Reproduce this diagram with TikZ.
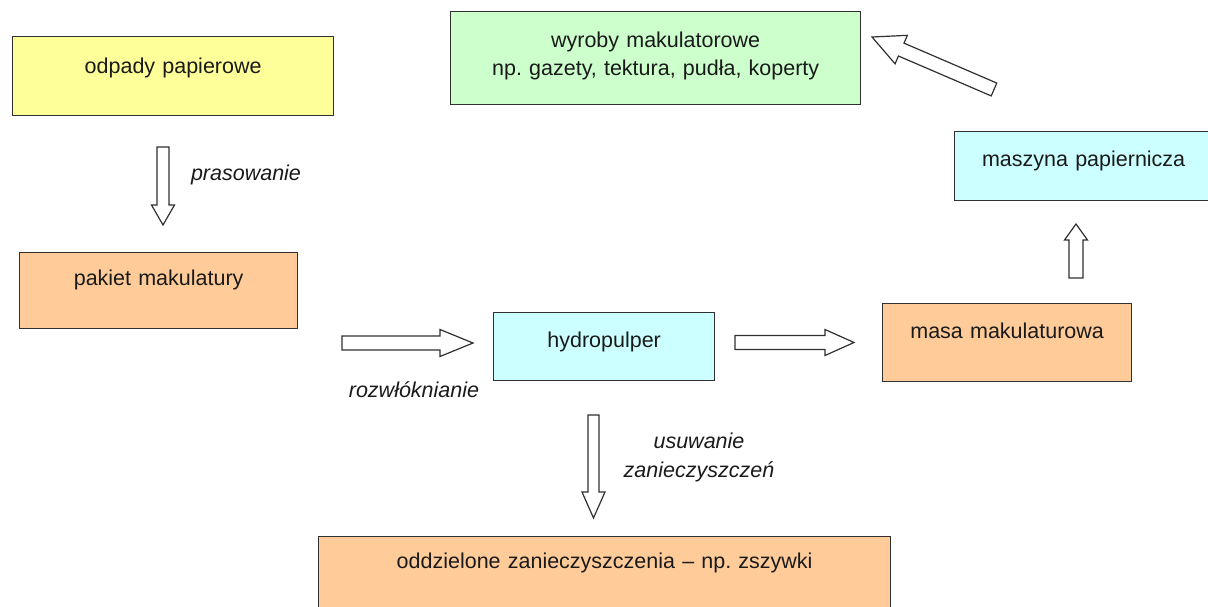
\documentclass[tikz,border=0pt]{standalone}
\usepackage{fontspec}
\setmainfont{Liberation Sans}
\usetikzlibrary{calc}
\frenchspacing
\definecolor{cyellow}{HTML}{FFFF99}
\definecolor{corange}{HTML}{FFCC99}
\definecolor{ccyan}{HTML}{CCFFFF}
\definecolor{cgreen}{HTML}{CCFFCC}
\definecolor{cline}{HTML}{303030}
\definecolor{ctext}{HTML}{1A1A1A}
\newcommand{\blockarr}[5]{%
  \coordinate (hb) at ($(#2)!#5!(#1)$);
  \draw[barrow] ($(#1)!#3!90:(#2)$) -- ($(hb)!#3!90:(#2)$) -- ($(hb)!#4!90:(#2)$) -- (#2)
    -- ($(hb)!#4!-90:(#2)$) -- ($(hb)!#3!-90:(#2)$) -- ($(#1)!#3!-90:(#2)$) -- cycle;}
\begin{document}
\begin{tikzpicture}[x=1pt,y=-1pt,
  font=\fontsize{21.5}{28}\selectfont,
  box/.style={draw=cline, line width=1.3pt, inner sep=0pt, anchor=north west, align=center, text=ctext},
  barrow/.style={draw=cline, line width=1.2pt, fill=white, line join=miter},
  lbl/.style={font=\fontsize{21.5}{29}\selectfont\itshape, inner sep=0pt, align=center, text=ctext}]
\useasboundingbox (0,0) rectangle (1208,607);
\clip (0,0) rectangle (1208,607);

% boxes
\node[box, fill=cyellow, text width=321pt, text height=36.5pt, text depth=42.5pt] (odpady) at (12,36) {odpady papierowe};
\node[box, fill=corange, text width=278pt, text height=33pt, text depth=43pt] (pakiet) at (19,252) {pakiet makulatury};
\node[box, fill=ccyan, text width=221pt, text height=35pt, text depth=33pt] (hydro) at (493,312) {hydropulper};
\node[box, fill=corange, text width=249pt, text height=35pt, text depth=43pt] (masa) at (882,303) {masa makulaturowa};
\node[box, fill=ccyan, text width=258pt, text height=35pt, text depth=34pt] (maszyna) at (954,131) {maszyna papiernicza};
\node[box, fill=cgreen, text width=410pt, text height=36pt, text depth=57pt] (wyroby) at (450,11) {wyroby makulatorowe\\np. gazety, tektura, pudła, koperty};
\node[box, fill=corange, text width=572pt, text height=32pt, text depth=52pt] (oddz) at (318,536) {oddzielone zanieczyszczenia – np. zszywki};

% labels
\node[lbl] (prasowanie) at (246,175) {prasowanie};
\node[lbl] (rozwl) at (414,390) {rozwłóknianie};
\node[lbl] (usuw) at (699,457.5) {usuwanie\\zanieczyszczeń};

% block arrows
\coordinate (a1t) at (163,147);  \coordinate (a1h) at (163,225);
\coordinate (a2t) at (342,343);  \coordinate (a2h) at (473,343);
\coordinate (a3t) at (735,342.5);\coordinate (a3h) at (854,342.5);
\coordinate (a4t) at (1076,278); \coordinate (a4h) at (1076,224);
\coordinate (a5t) at (593.5,415);\coordinate (a5h) at (593.5,518);
\coordinate (a6t) at (994,89.5); \coordinate (a6h) at (872,37);
\blockarr{a1t}{a1h}{6pt}{11.5pt}{20pt}
\blockarr{a2t}{a2h}{7pt}{13.5pt}{33pt}
\blockarr{a3t}{a3h}{7pt}{13pt}{29pt}
\blockarr{a4t}{a4h}{7pt}{11.5pt}{16pt}
\blockarr{a5t}{a5h}{5.5pt}{11.5pt}{26pt}
\blockarr{a6t}{a6h}{7pt}{15.5pt}{31.8pt}
\end{tikzpicture}
\end{document}
